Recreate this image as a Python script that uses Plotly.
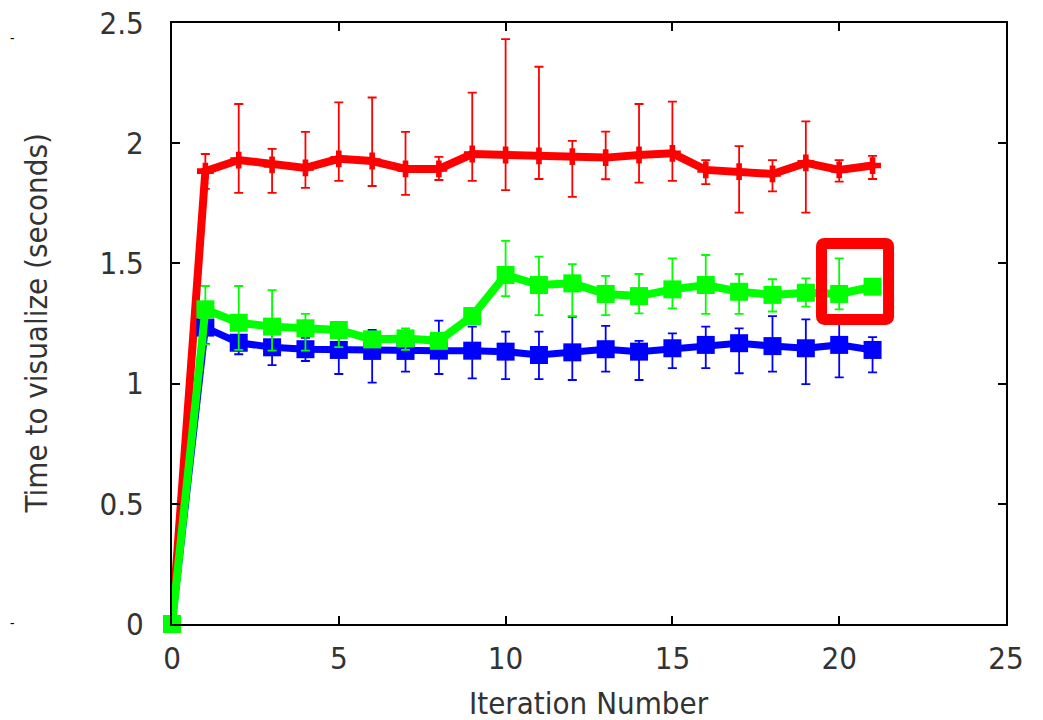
import plotly.graph_objects as go

iterations = list(range(22))

red_mean = [0, 1.884, 1.93, 1.91, 1.897, 1.935, 1.926, 1.893, 1.893, 1.955, 1.951, 1.947,
            1.944, 1.94, 1.951, 1.958, 1.889, 1.882, 1.872, 1.918, 1.889, 1.907]
red_hi = [0, 1.955, 2.163, 1.976, 2.047, 2.17, 2.19, 2.047, 1.943, 2.21, 2.433, 2.318,
          2.01, 2.048, 2.163, 2.173, 1.93, 1.988, 1.93, 2.091, 1.93, 1.947]
red_lo = [0, 1.81, 1.793, 1.793, 1.814, 1.843, 1.822, 1.785, 1.847, 1.843, 1.805, 1.851,
          1.777, 1.85, 1.836, 1.843, 1.83, 1.711, 1.80, 1.711, 1.84, 1.851]

green_mean = [0, 1.309, 1.253, 1.237, 1.23, 1.223, 1.184, 1.188, 1.178, 1.281, 1.452, 1.41,
              1.417, 1.373, 1.364, 1.392, 1.41, 1.382, 1.369, 1.378, 1.373, 1.403]
green_hi = [0, 1.406, 1.406, 1.389, 1.29, 1.253, 1.21, 1.23, 1.21, 1.30, 1.594, 1.528,
            1.497, 1.448, 1.456, 1.521, 1.535, 1.456, 1.434, 1.438, 1.521, 1.42]
green_lo = [0, 1.163, 1.14, 1.137, 1.137, 1.152, 1.16, 1.14, 1.15, 1.26, 1.364, 1.285,
            1.281, 1.285, 1.292, 1.313, 1.29, 1.29, 1.30, 1.32, 1.309, 1.385]

blue_mean = [0, 1.233, 1.17, 1.151, 1.143, 1.14, 1.136, 1.136, 1.137, 1.137, 1.133, 1.119,
             1.13, 1.143, 1.133, 1.147, 1.161, 1.168, 1.156, 1.147, 1.161, 1.14]
blue_hi = [0, 1.25, 1.20, 1.21, 1.19, 1.22, 1.223, 1.21, 1.262, 1.237, 1.216, 1.216,
           1.278, 1.24, 1.178, 1.209, 1.237, 1.23, 1.281, 1.267, 1.28, 1.193]
blue_lo = [0, 1.165, 1.122, 1.077, 1.094, 1.04, 1.004, 1.05, 1.04, 1.022, 1.019, 1.019,
           1.015, 1.05, 1.015, 1.064, 1.064, 1.043, 1.05, 0.998, 1.026, 1.047]

x_ticks = [0, 5, 10, 15, 20, 25]
y_ticks = [0, 0.5, 1, 1.5, 2, 2.5]
x_title = "Iteration Number"
y_title = "Time to visualize (seconds)"

# highlight box around the last green points (data units)
hl_x0, hl_x1, hl_y0, hl_y1 = 19.47, 21.48, 1.267, 1.583
hl_rx, hl_ry = 0.09, 0.0125

FONT = "DejaVu Sans Condensed, DejaVu Sans, sans-serif"


def trace(mean, hi, lo, color, symbol, msize, lw):
    return go.Scatter(
        x=iterations, y=mean, mode="lines+markers",
        line=dict(color=color, width=lw),
        marker=dict(color=color, symbol=symbol, size=msize, line=dict(width=0)),
        error_y=dict(type="data", symmetric=False,
                     array=[h - m for h, m in zip(hi, mean)],
                     arrayminus=[m - l for m, l in zip(mean, lo)],
                     color=color, thickness=1.8, width=4.5),
        cliponaxis=False, showlegend=False, hoverinfo="x+y",
    )


fig = go.Figure()
fig.add_trace(trace(red_mean, red_hi, red_lo, "#ff0000", "cross", 14, 8))
fig.add_trace(trace(blue_mean, blue_hi, blue_lo, "#0000ff", "square", 18, 7))
fig.add_trace(trace(green_mean, green_hi, green_lo, "#00ff00", "square", 18, 8))

axis_common = dict(
    showline=True, linecolor="black", linewidth=2, mirror="ticks",
    ticks="inside", ticklen=8, tickwidth=2, tickcolor="black",
    showgrid=False, zeroline=False, automargin=False,
    ticklabeloverflow="allow",
    tickfont=dict(family=FONT, size=31, color="#333333"),
)

fig.update_xaxes(range=[0, 25], tickvals=x_ticks, ticklabelstandoff=6, **axis_common)
fig.update_yaxes(range=[0, 2.5], tickvals=y_ticks, ticklabelstandoff=20, **axis_common)

path = (f"M {hl_x0 + hl_rx},{hl_y1} L {hl_x1 - hl_rx},{hl_y1} "
        f"Q {hl_x1},{hl_y1} {hl_x1},{hl_y1 - hl_ry} L {hl_x1},{hl_y0 + hl_ry} "
        f"Q {hl_x1},{hl_y0} {hl_x1 - hl_rx},{hl_y0} L {hl_x0 + hl_rx},{hl_y0} "
        f"Q {hl_x0},{hl_y0} {hl_x0},{hl_y0 + hl_ry} L {hl_x0},{hl_y1 - hl_ry} "
        f"Q {hl_x0},{hl_y1} {hl_x0 + hl_rx},{hl_y1} Z")
fig.add_shape(type="path", path=path, xref="x", yref="y",
              line=dict(color="#ff0000", width=11), layer="above")

fig.add_annotation(text=x_title, xref="paper", yref="paper", x=0.5, y=0,
                   yshift=-79, xanchor="center", yanchor="middle", showarrow=False,
                   font=dict(family=FONT, size=31, color="#333333"))
fig.add_annotation(text=y_title, xref="paper", yref="paper", x=0, y=0.5,
                   xshift=-137, xanchor="center", yanchor="middle", textangle=-90,
                   showarrow=False, font=dict(family=FONT, size=31, color="#333333"))
for yy in (0.991, -0.015):
    fig.add_annotation(text="-", xref="paper", yref="paper", x=0, y=yy,
                       xshift=-164, showarrow=False,
                       font=dict(family=FONT, size=14, color="black"))

fig.update_layout(
    width=1043, height=720,
    margin=dict(l=172, r=37, t=23, b=96),
    plot_bgcolor="white", paper_bgcolor="white",
)

# remove the page's default body margin so the figure fills the window exactly
fig.write_html("out.html",
               config={"displayModeBar": False},
               post_script="document.body.style.margin='0';document.body.style.overflow='hidden';")
